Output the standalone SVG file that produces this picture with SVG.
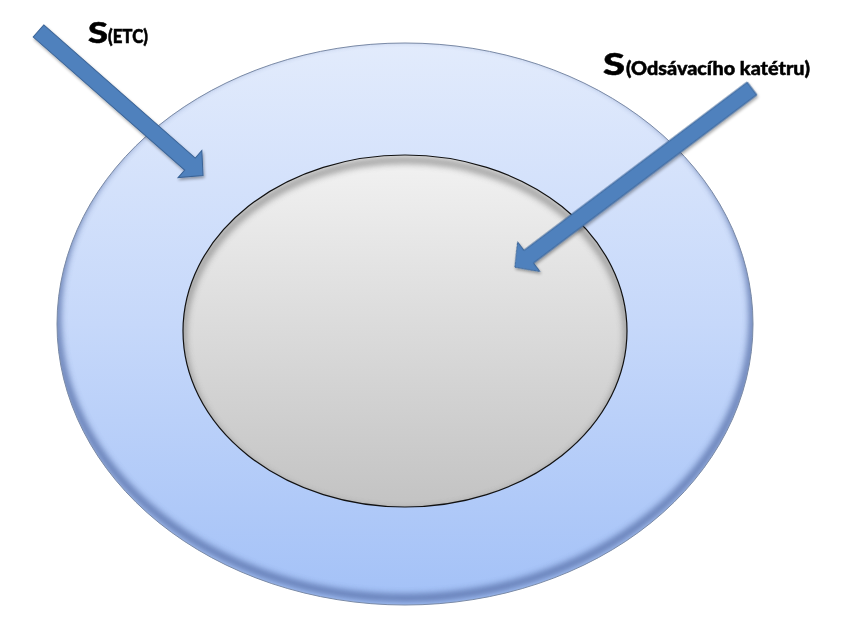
<svg xmlns="http://www.w3.org/2000/svg" width="848" height="619" viewBox="0 0 848 619">
  <defs>
    <linearGradient id="outerFill" x1="0" y1="0" x2="0" y2="1">
      <stop offset="0" stop-color="#e2ebfc"/>
      <stop offset="0.5" stop-color="#c6d8fa"/>
      <stop offset="1" stop-color="#a3c1f7"/>
    </linearGradient>
    <linearGradient id="innerFill" x1="0" y1="0" x2="0" y2="1">
      <stop offset="0" stop-color="#f2f2f2"/>
      <stop offset="1" stop-color="#c3c3c3"/>
    </linearGradient>
    <clipPath id="outerClip">
      <ellipse cx="405" cy="324" rx="348" ry="281"/>
    </clipPath>
    <clipPath id="innerClip">
      <ellipse cx="405" cy="331" rx="222" ry="176"/>
    </clipPath>
    <filter id="blur3" x="-10%" y="-10%" width="120%" height="120%">
      <feGaussianBlur stdDeviation="3"/>
    </filter>
    <filter id="shadow" x="-20%" y="-20%" width="140%" height="140%">
      <feGaussianBlur in="SourceAlpha" stdDeviation="1.5"/>
      <feOffset dx="1" dy="2" result="o"/>
      <feComponentTransfer><feFuncA type="linear" slope="0.35"/></feComponentTransfer>
      <feMerge><feMergeNode/><feMergeNode in="SourceGraphic"/></feMerge>
    </filter>
  </defs>
  <style>
    .arrow { fill: #4f81bd; stroke: #3a6396; stroke-width: 1; stroke-linejoin: miter; }
    .lbl { font-family: Lato, "Liberation Sans", sans-serif; font-weight: 900; fill: #000; stroke: #000; stroke-width: 0.5; }
  </style>
  <rect width="848" height="619" fill="#ffffff"/>

  <g id="outer-surface">
    <ellipse cx="405" cy="324" rx="348" ry="281" fill="url(#outerFill)"/>
    <g clip-path="url(#outerClip)">
      <ellipse cx="405" cy="317" rx="348" ry="281" fill="none" stroke="#5a72aa" stroke-width="8" filter="url(#blur3)" opacity="0.85"/>
    </g>
    <ellipse cx="405" cy="324" rx="348" ry="281" fill="none" stroke="#7a8aa6" stroke-width="1"/>
  </g>

  <g id="inner-surface">
    <ellipse cx="405" cy="331" rx="222" ry="176" fill="url(#innerFill)"/>
    <g clip-path="url(#innerClip)">
      <ellipse cx="405" cy="336" rx="222" ry="176" fill="none" stroke="#8a8a8a" stroke-width="7" filter="url(#blur3)" opacity="0.8"/>
    </g>
    <ellipse cx="405" cy="331" rx="222" ry="176" fill="none" stroke="#111" stroke-width="1.2"/>
  </g>

  <g id="connectors" filter="url(#shadow)">
    <polygon class="arrow" transform="translate(38.5,31) rotate(41.3)" points="0,-8 201.6,-8 201.6,-18 219,0 201.6,18 201.6,8 0,8"/>
    <polygon class="arrow" transform="translate(752,88.5) rotate(143)" points="0,-8 279.6,-8 279.6,-18.5 297,0 279.6,18.5 279.6,8 0,8"/>
  </g>

  <g id="label-etc">
    <text class="lbl" x="88" y="43" font-size="29" textLength="20" lengthAdjust="spacingAndGlyphs">S</text>
    <text class="lbl" x="108" y="43" font-size="18" textLength="40" lengthAdjust="spacingAndGlyphs">(ETC)</text>
  </g>
  <g id="label-katetr">
    <text class="lbl" x="603" y="75" font-size="30" textLength="22" lengthAdjust="spacingAndGlyphs">S</text>
    <text class="lbl" x="626" y="75" font-size="19" textLength="184" lengthAdjust="spacingAndGlyphs">(Odsávacího katétru)</text>
  </g>
</svg>
